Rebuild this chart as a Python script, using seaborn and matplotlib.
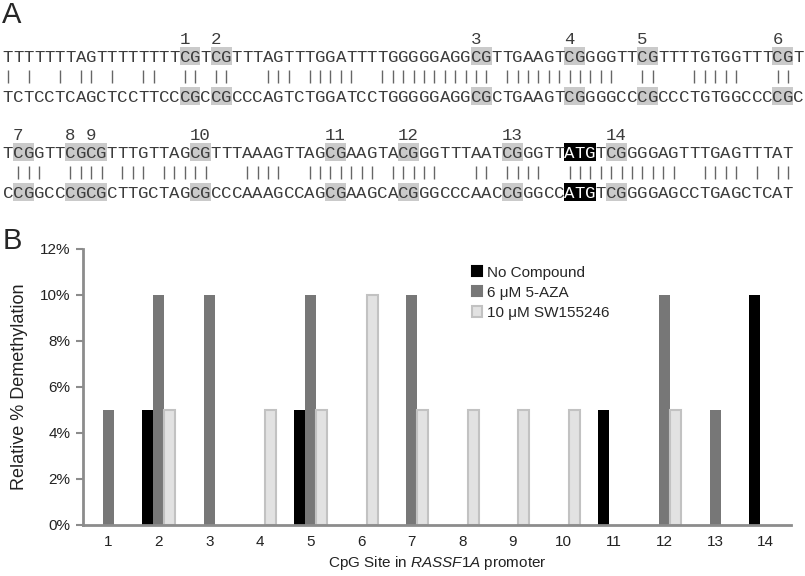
import matplotlib.pyplot as plt
from matplotlib.patches import Rectangle, Patch
import numpy as np
import pandas as pd
import seaborn as sns

# Panel A: aligned sequences (top = bisulfite converted, bottom = genomic)
top_1 = "TTTTTTTAGTTTTTTTTCGTCGTTTAGTTTGGATTTTGGGGGAGGCGTTGAAGTCGGGGTTCGTTTTGTGGTTTCGT"
bot_1 = "TCTCCTCAGCTCCTTCCCGCCGCCCAGTCTGGATCCTGGGGGAGGCGCTGAAGTCGGGGCCCGCCCTGTGGCCCCGC"
top_2 = "TCGGTTCGCGTTTGTTAGCGTTTAAAGTTAGCGAAGTACGGGTTTAATCGGGTTATGTCGGGGAGTTTGAGTTTAT"
bot_2 = "CCGGCCCGCGCTTGCTAGCGCCCAAAGCCAGCGAAGCACGGGCCCAACCGGGCCATGTCGGGGAGCCTGAGCTCAT"
start_codon = "ATG"

# Panel B: relative % demethylation per CpG site
sites = [str(i) for i in range(1, 15)]
conditions = ["No Compound", "6 μM 5-AZA", "10 μM SW155246"]
no_compound = [0, 5, 0, 0, 5, 0, 0, 0, 0, 0, 5, 0, 0, 10]
aza_6um = [5, 10, 10, 0, 10, 0, 10, 0, 0, 0, 0, 10, 5, 0]
sw_10um = [0, 5, 0, 5, 5, 10, 5, 5, 5, 5, 0, 5, 0, 0]
colors = ["#000000", "#777777", "#e2e2e2"]

sns.set_style("white")
plt.rcParams['font.family'] = ['Liberation Sans', 'DejaVu Sans']
plt.rcParams['mathtext.fontset'] = 'custom'
plt.rcParams['mathtext.rm'] = 'Liberation Sans'
plt.rcParams['mathtext.it'] = 'Liberation Sans:italic'

fig = plt.figure(figsize=(8.05, 5.76), dpi=100)

# ---- panel A ----
char_w = 10.4
axA = fig.add_axes([0, 1 - 215 / 576, 1, 215 / 576])
axA.set_xlim(-2.7 / char_w, (805 - 2.7) / char_w)
axA.set_ylim(215, 0)
axA.axis("off")

mono = dict(family="Liberation Mono", fontsize=12.5)
cap = 5.6
txt_col = "#3c3c3c"
site_no = 1
for top, bot, y0 in [(top_1, bot_1, 56), (top_2, bot_2, 152)]:
    y_bar = y0 + 20
    y_bot = y0 + 40
    # CpG highlights and site numbers
    cg = [i for i in range(len(top) - 1) if top[i:i + 2] == "CG"]
    for i in cg:
        for yy in (y0, y_bot):
            axA.add_patch(Rectangle((i, yy - 9), 2, 18, color="#cacaca", lw=0))
        axA.text(i, y0 - 18 + cap, str(site_no), ha="left", va="baseline",
                 color=txt_col, **mono)
        site_no += 1
    atg = top.find(start_codon)
    if atg >= 0:
        for yy in (y0, y_bot):
            axA.add_patch(Rectangle((atg, yy - 9), 3, 18, color="black", lw=0))
    for seq, yy in [(top, y0), (bot, y_bot)]:
        for i, ch in enumerate(seq):
            col = "white" if atg >= 0 and atg <= i < atg + 3 else txt_col
            axA.text(i + 0.5, yy + cap, ch, ha="center", va="baseline",
                     color=col, **mono)
    match = [i + 0.5 for i in range(min(len(top), len(bot))) if top[i] == bot[i]]
    axA.vlines(match, y_bar - 6, y_bar + 7, color="#666666", lw=1)

fig.text(0.003, 0.998, "A", fontsize=21, va="top", ha="left")
fig.text(0.003, 1 - 227 / 576, "B", fontsize=21, va="top", ha="left")

# ---- panel B ----
df = pd.DataFrame({
    "site": sites * 3,
    "condition": np.repeat(conditions, len(sites)),
    "value": no_compound + aza_6um + sw_10um,
})

axB = fig.add_axes([83 / 805, 51 / 576, 708 / 805, 276 / 576])
sns.barplot(data=df, x="site", y="value", hue="condition", order=sites,
            hue_order=conditions, palette=colors, saturation=1, width=0.65,
            linewidth=0, legend=False, ax=axB)
for bar in axB.containers[2]:
    if bar.get_height() > 0:
        bar.set_edgecolor("#c2c2c2")
        bar.set_linewidth(1.5)

axB.set_xlim(-0.5, len(sites) - 0.5)
axB.set_ylim(0, 12)
axB.set_yticks(range(0, 13, 2))
axB.set_yticklabels([f"{v}%" for v in range(0, 13, 2)])
axB.set_xticks(range(len(sites)))
axB.set_xticklabels(sites)
axB.set_xticks(np.arange(-0.5, len(sites), 1), minor=True)
axB.tick_params(axis="x", which="major", length=0, pad=7, labelsize=11, labelcolor="#222222")
axB.tick_params(axis="x", which="minor", length=6, width=1.5, color="#8c8c8c", direction="out")
axB.tick_params(axis="y", length=5, width=1.5, color="#8c8c8c", pad=4, labelsize=11,
                labelcolor="#222222", left=True)
sns.despine(ax=axB)
for s in ["left", "bottom"]:
    axB.spines[s].set_color("#8c8c8c")
    axB.spines[s].set_linewidth(2)

axB.set_xlabel("CpG Site in $\\it{RASSF1A}$ promoter", fontsize=11, color="#222222", labelpad=4)
axB.set_ylabel("Relative % Demethylation", fontsize=13, color="#222222", labelpad=9)

handles = [Patch(facecolor=c, edgecolor=e, lw=1.5) for c, e in
           zip(colors, ["#000000", "#777777", "#c2c2c2"])]
axB.legend(handles, conditions, loc="upper left", bbox_to_anchor=(0.55, 0.94),
           frameon=False, fontsize=11, handlelength=0.65, handleheight=0.65,
           handletextpad=0.3, labelspacing=0.4, borderpad=0, borderaxespad=0)

fig.savefig("out.png", dpi=100)
